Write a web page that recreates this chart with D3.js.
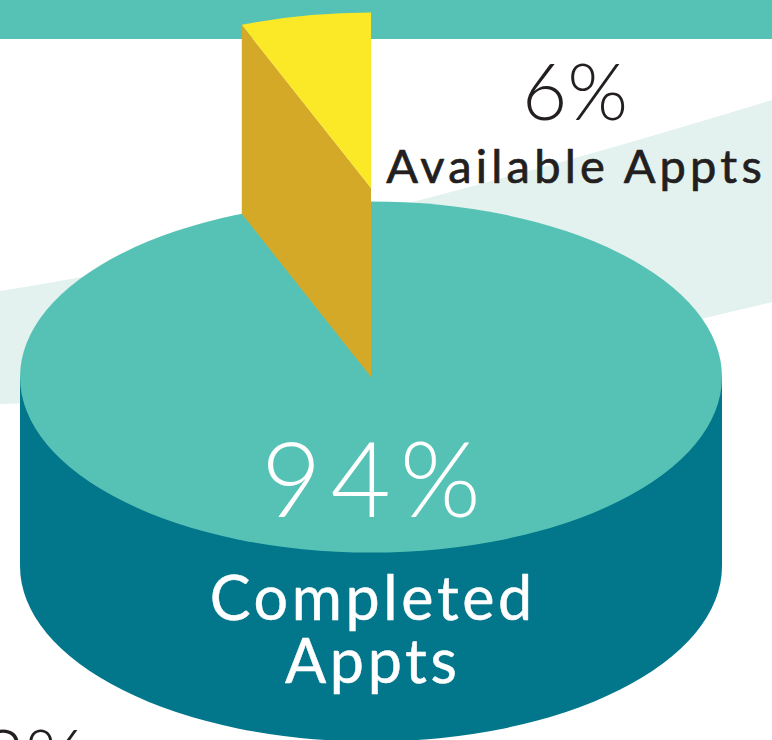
<!DOCTYPE html>
<html><head><meta charset="utf-8">
<script src="https://cdn.jsdelivr.net/npm/d3@7"></script>
<style>html,body{margin:0;padding:0;background:#fff;overflow:hidden}</style>
</head><body>
<svg id="chart" width="772" height="740"></svg>
<script>
const categories = ["Completed Appts", "Available Appts"];
const values = [94, 6];
const pctLabels = ["94%", "6%"];
const nameLines = [["Completed", "Appts"], ["Available Appts"]];
const neighbourLabel = "3%";

const W = 772, H = 740;
const cx = 371, cy = 377, rx = 351, ry = 175.5, depth = 189, lift = 189;
const colTeal = "#56c2b5", colDark = "#02768b", colYellow = "#fbe927", colGold = "#d4a928", colSwoosh = "#e3f2ef", colText = "#231f20";

const svg = d3.select("#chart");
const sx = d3.scaleLinear().domain([-1, 1]).range([cx - rx, cx + rx]);
const sy = d3.scaleLinear().domain([-1, 1]).range([cy - ry, cy + ry]);
const proj = (a, up) => [sx(Math.sin(a)), sy(-Math.cos(a)) - up];

// background band & swoosh
svg.append("rect").attr("x", 0).attr("y", 0).attr("width", W).attr("height", 39).attr("fill", colTeal);
svg.append("path").attr("fill", colSwoosh)
  .attr("d", "M0,291 Q300,244 772,100 L772,302 Q396,396 0,404 Z");

const pie = d3.pie().sort(null).value(d => d);
const arcs = pie(values);

// side of the cylinder
svg.append("path").attr("fill", colDark)
  .attr("d", `M${sx(-1)},${cy} L${sx(-1)},${cy + depth} A${rx},${ry} 0 0 0 ${sx(1)},${cy + depth} L${sx(1)},${cy} Z`);
// top face
svg.append("ellipse").attr("cx", cx).attr("cy", cy).attr("rx", rx).attr("ry", ry).attr("fill", colTeal);

// exploded slice (Available)
const s = arcs[1];
const apexTop = [cx, cy - lift];
const p0Top = proj(s.startAngle, lift), p1Top = proj(s.endAngle, lift);
const p0Bot = proj(s.startAngle, lift - depth);
const apexBot = [cx, cy - lift + depth];
svg.append("path").attr("fill", colGold)
  .attr("d", `M${apexTop} L${p0Top} L${p0Bot} L${apexBot} Z`);
svg.append("path").attr("fill", colYellow)
  .attr("d", `M${apexTop} L${p0Top} A${rx},${ry} 0 0 1 ${p1Top} Z`);

const font = "Lato, 'Open Sans', sans-serif";
function label(x, y, lines, size, weight, fill, ls, strokeW, anchor, lineH) {
  const t = svg.append("text")
    .attr("text-anchor", anchor || "middle")
    .attr("font-family", font).attr("font-weight", weight).attr("font-size", size)
    .attr("letter-spacing", ls).attr("fill", fill);
  const xx = x + (anchor === "start" ? 0 : ls / 2);
  [].concat(lines).forEach((ln, i) => {
    t.append("tspan").attr("x", xx).attr("y", y + i * (lineH || 0)).text(ln);
  });
  if (strokeW) t.attr("stroke", fill).attr("stroke-width", strokeW).attr("stroke-linejoin", "round");
  return t;
}
// 94% label
label(cx, 517, pctLabels[0], 104, 300, "#fff", 9, 0);
label(cx, 620, nameLines[0], 61, 400, "#fff", 3.6, 0.5, "middle", 63);
// 6% label
label(575, 120, pctLabels[1], 78, 300, colText, 0, 0);
label(574, 183, nameLines[1], 47, 400, colText, 4.2, 0.7);
// neighbouring chart label, cut off at bottom
label(-20, 786, neighbourLabel, 78, 300, colText, 0, 0, "start");
</script>
</body></html>
